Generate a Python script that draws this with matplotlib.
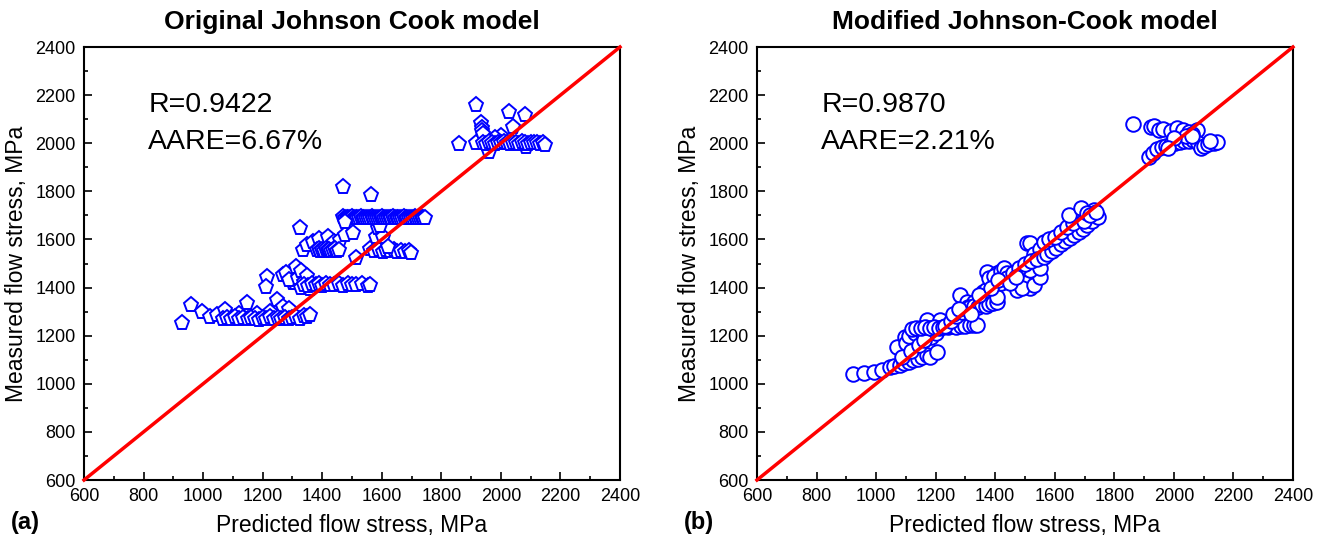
import matplotlib
matplotlib.use('Agg')
import matplotlib.pyplot as plt
from matplotlib.ticker import MultipleLocator

plt.rcParams['font.family'] = ['Liberation Sans', 'DejaVu Sans']

# Original Johnson-Cook model: predicted vs measured flow stress (MPa)
jc_low_pred = [928, 961, 995, 1023, 1045, 1073, 1096, 1120, 1146, 1180, 1213, 1211, 1247, 1225, 1268, 1290,
               1066, 1080, 1095, 1108, 1120, 1135, 1150, 1162, 1175, 1188, 1200, 1212, 1225, 1238, 1250,
               1262, 1275, 1288, 1300, 1312, 1325, 1338, 1350, 1358]
jc_low_meas = [1252, 1328, 1300, 1279, 1285, 1307, 1272, 1290, 1335, 1290, 1446, 1404, 1348, 1300, 1320, 1310,
               1270, 1274, 1268, 1276, 1270, 1272, 1268, 1275, 1270, 1266, 1273, 1268, 1276, 1270, 1272,
               1268, 1275, 1270, 1273, 1278, 1270, 1282, 1276, 1285]

jc_mid_pred = [1268, 1280, 1302, 1308, 1313, 1290, 1320, 1330, 1340, 1350, 1330, 1360,
               1340, 1352, 1365, 1378, 1390, 1400, 1412, 1425, 1440, 1455, 1470, 1485, 1500, 1515, 1535, 1553, 1560,
               1325, 1336, 1350, 1370, 1390, 1420, 1440, 1459, 1475, 1503,
               1382, 1388, 1394, 1400, 1406, 1412, 1418, 1424, 1430, 1436, 1442, 1448, 1455,
               1515, 1560, 1575, 1590, 1603, 1615, 1628, 1640, 1652, 1665, 1678, 1690, 1699,
               1580, 1587, 1603, 1620, 1593]
jc_mid_meas = [1452, 1459, 1418, 1418, 1487, 1430, 1440, 1470, 1425, 1450, 1400, 1395,
               1412, 1408, 1415, 1410, 1413, 1408, 1414, 1409, 1412, 1415, 1408, 1413, 1410, 1411, 1414, 1407, 1411,
               1646, 1556, 1575, 1590, 1600, 1610, 1590, 1598, 1620, 1627,
               1556, 1560, 1552, 1558, 1554, 1560, 1555, 1558, 1553, 1557, 1561, 1554, 1557,
               1522, 1560, 1552, 1558, 1548, 1555, 1550, 1556, 1549, 1553, 1547, 1552, 1543,
               1610, 1648, 1612, 1570, 1654]

jc_band_pred = [1470, 1476, 1482, 1488, 1494, 1500, 1506, 1512, 1518, 1524, 1530, 1536, 1542, 1548, 1554,
                1560, 1566, 1572, 1578, 1584, 1590, 1596, 1602, 1608, 1614, 1620, 1626, 1632, 1638, 1644,
                1650, 1656, 1662, 1668, 1674, 1680, 1686, 1692, 1698, 1704, 1710, 1716, 1722, 1728, 1734,
                1740, 1746, 1476, 1469, 1565]
jc_band_meas = [1692, 1690, 1688, 1691, 1689, 1692, 1690, 1688, 1691, 1690, 1692, 1689, 1690, 1691, 1688,
                1690, 1692, 1689, 1690, 1691, 1688, 1690, 1692, 1689, 1690, 1691, 1688, 1690, 1692, 1689,
                1690, 1691, 1688, 1690, 1692, 1689, 1690, 1691, 1688, 1690, 1692, 1689, 1690, 1691, 1688,
                1690, 1689, 1674, 1818, 1785]

jc_top_pred = [1918, 2027, 2080, 1859, 1918, 1934, 1936, 1938, 1940, 2040, 1960, 2086, 2000, 1980,
               1939, 1950, 1960, 1970, 1980, 1990, 2000, 2010, 2020, 2030, 2040, 2050, 2060, 2070, 2080,
               2090, 2100, 2110, 2120, 2130, 2140, 2147]
jc_top_meas = [2160, 2131, 2118, 1997, 2000, 2083, 2065, 2050, 2040, 2069, 1965, 1986, 2030, 2020,
               2002, 1998, 2004, 2000, 1996, 2003, 1999, 2005, 2001, 1997, 2003, 2000, 1998, 2004, 2001,
               1997, 2002, 1999, 2003, 1998, 2001, 1993]

# Modified Johnson-Cook model
mjc_low_pred = [924, 958, 992, 1020, 1047, 1060, 1081, 1095, 1110, 1125, 1140, 1155, 1170, 1182, 1204,
                1070, 1098, 1100, 1110, 1130, 1150, 1171, 1216, 1185, 1200, 1088, 1118, 1145, 1160]
mjc_low_meas = [1040, 1046, 1050, 1057, 1071, 1075, 1078, 1085, 1090, 1100, 1105, 1110, 1120, 1113, 1133,
                1154, 1196, 1170, 1200, 1210, 1220, 1265, 1265, 1195, 1210, 1110, 1135, 1160, 1180]

mjc_mid_pred = [1120, 1135, 1150, 1165, 1180, 1195, 1210, 1225, 1240, 1255, 1270, 1285, 1300, 1315, 1330, 1340,
                1230, 1250, 1270, 1283, 1306, 1290, 1310, 1330, 1350, 1360, 1370,
                1317, 1330, 1342, 1355, 1368, 1380, 1393, 1407,
                1373, 1407, 1380, 1395, 1420, 1430, 1440, 1407, 1420, 1440, 1460, 1474, 1518, 1500, 1490,
                1530, 1552, 1518, 1552, 1480, 1500, 1507, 1563, 1518, 1530, 1550,
                1260, 1280, 1320, 1345, 1385, 1410, 1450, 1470, 1520, 1540]
mjc_mid_meas = [1228, 1232, 1230, 1235, 1233, 1236, 1234, 1238, 1236, 1240, 1238, 1242, 1240, 1244, 1243, 1246,
                1240, 1260, 1280, 1369, 1341, 1300, 1320, 1340, 1360, 1380, 1390,
                1318, 1322, 1320, 1326, 1324, 1330, 1334, 1338,
                1466, 1459, 1440, 1450, 1470, 1480, 1460, 1362, 1420, 1440, 1460, 1390, 1397, 1420, 1400,
                1410, 1445, 1473, 1480, 1480, 1500, 1584, 1584, 1584, 1540, 1560,
                1290, 1310, 1290, 1370, 1400, 1430, 1420, 1445, 1510, 1520]

mjc_high_pred = [1563, 1575, 1590, 1605, 1620, 1635, 1650, 1665, 1680, 1695, 1710, 1725, 1744,
                 1563, 1580, 1600, 1620, 1640, 1660, 1647, 1687, 1731, 1698, 1710, 1720, 1740]
mjc_high_meas = [1529, 1540, 1552, 1565, 1580, 1592, 1605, 1620, 1633, 1645, 1660, 1675, 1695,
                 1591, 1600, 1610, 1630, 1650, 1670, 1702, 1730, 1723, 1675, 1710, 1700, 1715]

mjc_top_pred = [1862, 1922, 1935, 1950, 1965, 1990, 2012, 2030, 2050, 2079, 2060,
                1916, 1930, 1945, 1960, 1975, 1990, 2005, 2020, 2035, 2050, 2065, 2080, 2090, 2100,
                2115, 2134, 2146, 2120, 2040, 2060, 2000, 1980]
mjc_top_meas = [2078, 2069, 2072, 2055, 2060, 2050, 2062, 2055, 2045, 2055, 2040,
                1944, 1960, 1975, 1985, 1990, 1995, 2000, 2005, 2010, 2010, 2015, 2000, 1980, 1990,
                1995, 2000, 2007, 2010, 2030, 2030, 2020, 1980]

axis_range = [600, 2400]
panels = [
    ('Original Johnson Cook model', '(a)', 'p',
     [(jc_low_pred, jc_low_meas), (jc_mid_pred, jc_mid_meas), (jc_band_pred, jc_band_meas), (jc_top_pred, jc_top_meas)],
     'R=0.9422\nAARE=6.67%'),
    ('Modified Johnson-Cook model', '(b)', 'o',
     [(mjc_low_pred, mjc_low_meas), (mjc_mid_pred, mjc_mid_meas), (mjc_high_pred, mjc_high_meas), (mjc_top_pred, mjc_top_meas)],
     'R=0.9870\nAARE=2.21%'),
]

fig = plt.figure(figsize=(13.25, 5.44), dpi=100)
lefts = [0.0634, 0.5713]
for (title, tag, marker, groups, stats), left in zip(panels, lefts):
    ax = fig.add_axes([left, 0.1176, 0.4045, 0.796])
    for pred, meas in groups:
        ax.plot(pred, meas, linestyle='none', marker=marker, markersize=11 if marker == 'p' else 10.5,
                markerfacecolor='white', markeredgecolor='#0000ff', markeredgewidth=1.4, zorder=2)
    ax.plot(axis_range, axis_range, color='#ff0000', linewidth=2.5, zorder=3, clip_on=False)
    ax.set_xlim(axis_range)
    ax.set_ylim(axis_range)
    ax.xaxis.set_major_locator(MultipleLocator(200))
    ax.yaxis.set_major_locator(MultipleLocator(200))
    ax.xaxis.set_minor_locator(MultipleLocator(100))
    ax.yaxis.set_minor_locator(MultipleLocator(100))
    ax.tick_params(which='both', direction='in', top=False, right=False, labelsize=13, width=1.2)
    ax.tick_params(which='major', length=6, pad=6)
    ax.tick_params(which='minor', length=3)
    for sp in ax.spines.values():
        sp.set_linewidth(1.5)
    ax.set_title(title, fontsize=19, fontweight='bold', pad=13)
    ax.set_xlabel('Predicted flow stress, MPa', fontsize=16.5, labelpad=6)
    ax.set_ylabel('Measured flow stress, MPa', fontsize=16.5, labelpad=5)
    ax.text(0.12, 0.895, stats, transform=ax.transAxes, fontsize=20.5, va='top', ha='left', linespacing=1.55)
    fig.text(left - 0.055, 0.04, tag, fontsize=17, fontweight='bold', ha='left', va='center')

fig.savefig('out.png', dpi=100)
